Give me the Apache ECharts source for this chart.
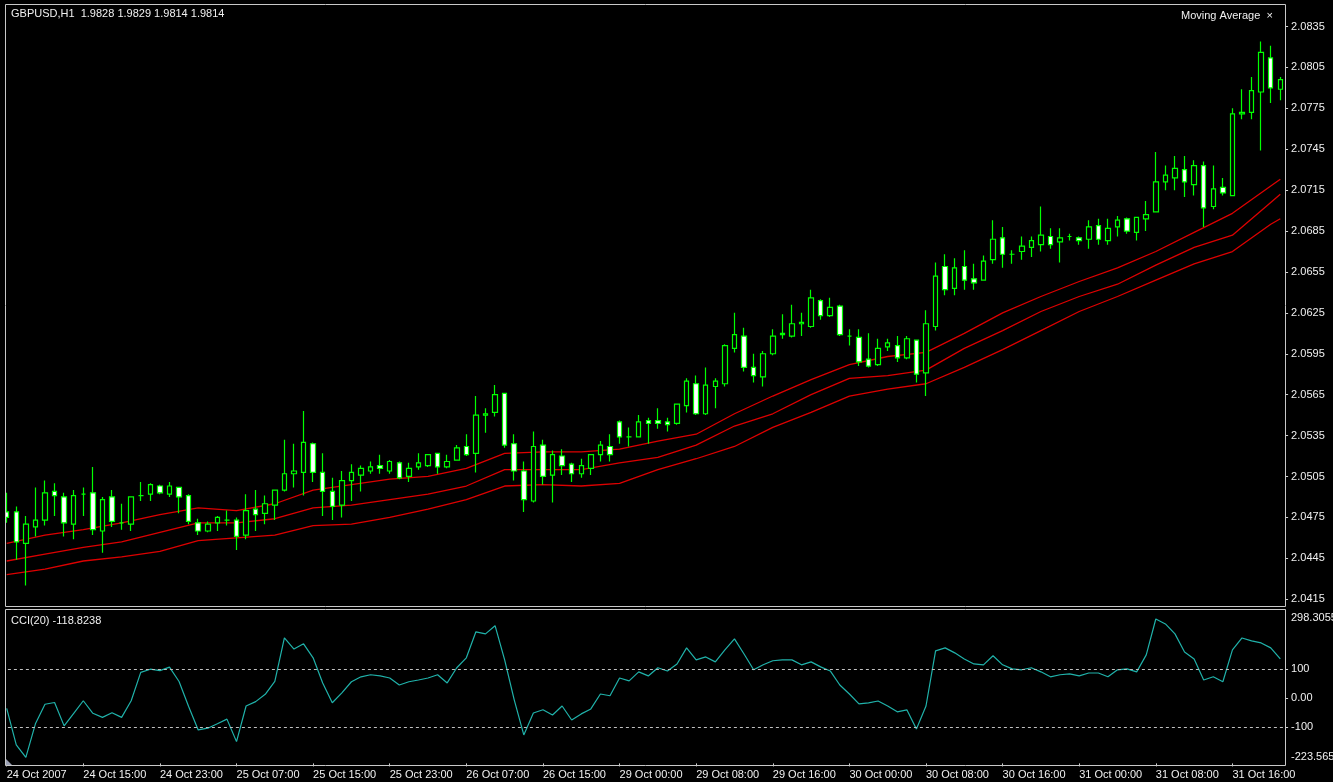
<!DOCTYPE html>
<html>
<head>
<meta charset="utf-8">
<title>GBPUSD,H1</title>
<script src="https://cdn.jsdelivr.net/npm/echarts@6.0.0/dist/echarts.min.js"></script>
<style>
  html, body { margin: 0; padding: 0; background: #000; }
  #chart { width: 1333px; height: 782px; }
</style>
</head>
<body>
<div id="chart"></div>
<script>
  // time labels shown every 8 bars (H1)
  const tickLabels = ['24 Oct 2007', '24 Oct 15:00', '24 Oct 23:00', '25 Oct 07:00', '25 Oct 15:00',
    '25 Oct 23:00', '26 Oct 07:00', '26 Oct 15:00', '29 Oct 00:00', '29 Oct 08:00', '29 Oct 16:00',
    '30 Oct 00:00', '30 Oct 08:00', '30 Oct 16:00', '31 Oct 00:00', '31 Oct 08:00', '31 Oct 16:00'];

  const open = [2.0479,2.0479,2.0456,2.0468,2.0473,2.0494,2.0490,2.0470,2.0492,2.0493,
    2.0465,2.0490,2.0471,2.0470,2.0491,2.0492,2.0498,2.0492,2.0497,2.0491,
    2.0471,2.0465,2.0471,2.0473,2.0473,2.0462,2.0481,2.0478,2.0484,2.0495,
    2.0507,2.0508,2.0529,2.0508,2.0494,2.0484,2.0502,2.0506,2.0509,2.0513,
    2.0509,2.0515,2.0505,2.0512,2.0513,2.0522,2.0512,2.0517,2.0527,2.0522,
    2.0550,2.0552,2.0566,2.0529,2.0509,2.0487,2.0528,2.0506,2.0520,2.0514,
    2.0507,2.0511,2.0521,2.0527,2.0545,2.0534,2.0534,2.0546,2.0546,2.0545,
    2.0544,2.0557,2.0573,2.0551,2.0571,2.0573,2.0599,2.0608,2.0585,2.0578,
    2.0595,2.0609,2.0608,2.0617,2.0615,2.0634,2.0623,2.0630,2.0608,2.0607,
    2.0591,2.0587,2.0600,2.0601,2.0592,2.0605,2.0581,2.0615,2.0659,2.0643,
    2.0659,2.0650,2.0649,2.0664,2.0680,2.0668,2.0670,2.0673,2.0675,2.0681,
    2.0677,2.0681,2.0680,2.0679,2.0689,2.0678,2.0688,2.0694,2.0684,2.0694,
    2.0699,2.0721,2.0724,2.0730,2.0719,2.0733,2.0703,2.0717,2.0711,2.0771,
    2.0772,2.0787,2.0812,2.0789];
  const high = [2.0493,2.0483,2.0476,2.0497,2.0502,2.0500,2.0493,2.0495,2.0497,2.0512,
    2.0490,2.0495,2.0485,2.0490,2.0501,2.0500,2.0499,2.0501,2.0497,2.0492,
    2.0474,2.0472,2.0476,2.0480,2.0475,2.0492,2.0495,2.0491,2.0495,2.0532,
    2.0529,2.0553,2.0530,2.0522,2.0504,2.0509,2.0514,2.0513,2.0516,2.0521,
    2.0517,2.0516,2.0515,2.0522,2.0521,2.0522,2.0521,2.0528,2.0536,2.0564,
    2.0555,2.0572,2.0566,2.0536,2.0516,2.0538,2.0532,2.0524,2.0525,2.0515,
    2.0518,2.0521,2.0531,2.0536,2.0546,2.0541,2.0550,2.0548,2.0555,2.0548,
    2.0558,2.0577,2.0579,2.0585,2.0577,2.0602,2.0625,2.0614,2.0595,2.0597,
    2.0613,2.0624,2.0631,2.0625,2.0642,2.0635,2.0636,2.0631,2.0613,2.0613,
    2.0610,2.0606,2.0606,2.0608,2.0608,2.0605,2.0627,2.0662,2.0668,2.0665,
    2.0671,2.0661,2.0667,2.0693,2.0688,2.0671,2.0681,2.0681,2.0703,2.0687,
    2.0687,2.0683,2.0681,2.0693,2.0694,2.0694,2.0696,2.0695,2.0695,2.0707,
    2.0743,2.0733,2.0740,2.0740,2.0737,2.0736,2.0733,2.0724,2.0775,2.0789,
    2.0798,2.0824,2.0821,2.0798];
  const low = [2.0471,2.0444,2.0425,2.0461,2.0469,2.0476,2.0461,2.0459,2.0476,2.0462,
    2.0449,2.0468,2.0466,2.0465,2.0487,2.0487,2.0492,2.0490,2.0478,2.0470,
    2.0462,2.0464,2.0465,2.0469,2.0451,2.0459,2.0465,2.0470,2.0473,2.0494,
    2.0497,2.0491,2.0501,2.0476,2.0473,2.0475,2.0487,2.0494,2.0507,2.0507,
    2.0507,2.0503,2.0501,2.0510,2.0512,2.0507,2.0511,2.0517,2.0520,2.0508,
    2.0537,2.0549,2.0526,2.0502,2.0479,2.0486,2.0499,2.0486,2.0506,2.0501,
    2.0504,2.0506,2.0516,2.0516,2.0529,2.0527,2.0534,2.0529,2.0540,2.0538,
    2.0543,2.0552,2.0550,2.0550,2.0555,2.0571,2.0596,2.0582,2.0574,2.0571,
    2.0594,2.0606,2.0607,2.0608,2.0614,2.0620,2.0622,2.0608,2.0601,2.0586,
    2.0585,2.0586,2.0597,2.0589,2.0591,2.0574,2.0564,2.0612,2.0638,2.0638,
    2.0642,2.0642,2.0649,2.0661,2.0658,2.0661,2.0664,2.0666,2.0670,2.0672,
    2.0662,2.0678,2.0675,2.0672,2.0675,2.0675,2.0681,2.0683,2.0678,2.0685,
    2.0699,2.0715,2.0715,2.0710,2.0711,2.0688,2.0701,2.0711,2.0711,2.0767,
    2.0767,2.0744,2.0779,2.0781];
  const close = [2.0475,2.0457,2.0470,2.0473,2.0493,2.0491,2.0471,2.0491,2.0492,2.0466,
    2.0488,2.0472,2.0471,2.0490,2.0491,2.0499,2.0493,2.0498,2.0490,2.0472,
    2.0465,2.0470,2.0475,2.0473,2.0461,2.0480,2.0477,2.0485,2.0495,2.0507,
    2.0509,2.0530,2.0508,2.0494,2.0483,2.0502,2.0508,2.0511,2.0512,2.0511,
    2.0516,2.0504,2.0511,2.0515,2.0521,2.0512,2.0516,2.0526,2.0521,2.0550,
    2.0551,2.0565,2.0528,2.0509,2.0488,2.0527,2.0505,2.0521,2.0513,2.0507,
    2.0513,2.0521,2.0528,2.0521,2.0534,2.0534,2.0545,2.0544,2.0544,2.0543,
    2.0558,2.0575,2.0551,2.0572,2.0575,2.0601,2.0609,2.0585,2.0579,2.0595,
    2.0608,2.0610,2.0617,2.0618,2.0636,2.0623,2.0629,2.0609,2.0608,2.0589,
    2.0586,2.0599,2.0603,2.0592,2.0606,2.0580,2.0617,2.0652,2.0642,2.0658,
    2.0649,2.0647,2.0663,2.0679,2.0668,2.0668,2.0674,2.0678,2.0682,2.0675,
    2.0680,2.0681,2.0678,2.0688,2.0679,2.0687,2.0693,2.0685,2.0695,2.0697,
    2.0721,2.0726,2.0731,2.0721,2.0733,2.0702,2.0716,2.0713,2.0771,2.0772,
    2.0788,2.0816,2.0790,2.0796];

  // moving average envelopes, read at every 4th bar
  const maIdx = [0,4,8,12,16,20,24,28,32,36,40,44,48,52,56,60,64,68,72,76,80,84,88,92,96,
    100,104,108,112,116,120,124,128,132,133];
  const maTop = [2.0456,2.0462,2.0466,2.0471,2.0477,2.0482,2.0480,2.0485,2.0495,2.0499,2.0503,
    2.0505,2.0511,2.0522,2.0523,2.0523,2.0525,2.0531,2.0536,2.0551,2.0564,2.0576,2.0587,2.0593,
    2.0596,2.0610,2.0625,2.0637,2.0648,2.0658,2.0670,2.0684,2.0698,2.0718,2.0723];
  const maMid = [2.0443,2.0448,2.0453,2.0457,2.0464,2.0471,2.0471,2.0474,2.0482,2.0484,2.0488,
    2.0492,2.0498,2.0510,2.0510,2.0510,2.0515,2.0519,2.0528,2.0542,2.0551,2.0565,2.0577,2.0579,
    2.0583,2.0599,2.0612,2.0626,2.0637,2.0646,2.0660,2.0673,2.0682,2.0706,2.0712];
  const maLow = [2.0433,2.0437,2.0443,2.0446,2.0450,2.0458,2.0460,2.0462,2.0469,2.0470,2.0475,
    2.0481,2.0488,2.0498,2.0499,2.0498,2.0500,2.0510,2.0518,2.0527,2.0541,2.0552,2.0564,2.0569,
    2.0573,2.0585,2.0598,2.0612,2.0626,2.0637,2.0649,2.0661,2.0670,2.0690,2.0694];

  const cci = [-35,-160,-203,-88,-21,-15,-95,-52,-9,-52,-66,-50,-66,-9,88,99,94,106,57,-29,
    -109,-103,-88,-72,-149,-27,-12,13,57,206,168,186,138,52,-16,18,56,73,80,76,
    69,45,56,62,69,80,52,104,138,227,220,248,131,-6,-126,-51,-40,-58,-27,-75,
    -54,-37,14,8,69,59,90,76,104,93,117,172,131,141,124,165,203,151,97,114,
    128,131,131,114,124,107,93,45,14,-20,-16,-10,-27,-47,-40,-106,-27,162,172,155,
    134,117,114,145,114,100,97,104,90,73,80,83,76,86,86,73,97,100,90,148,
    271,254,220,158,134,62,73,56,165,206,196,189,172,134];

  const priceTicks = [2.0835,2.0805,2.0775,2.0745,2.0715,2.0685,2.0655,2.0625,2.0595,2.0565,
    2.0535,2.0505,2.0475,2.0445,2.0415];
  const cciTicks = [100, 0, -100];
  const cciTickText = ['100', '0.00', '-100'];
  const cciMax = 298.3055;
  const cciMin = -223.565;

  const FONT = 'Liberation Sans';
  const TXT = '#f0f0f0';
  const GREEN = '#00ff00';

  // bars are 9.576px apart, first one sits half cut at the left frame
  const PLOT_LEFT = 1.9;
  const PLOT_W = 1283.2;

  const bars = open.map((o, i) => i);
  const candles = open.map((o, i) => [o, close[i], low[i], high[i]]);

  const maLine = (vals) => ({
    type: 'line',
    xAxisIndex: 1,
    yAxisIndex: 0,
    data: maIdx.map((x, k) => [x, vals[k]]),
    symbol: 'none',
    lineStyle: { color: '#dd0000', width: 1.3 },
    silent: true,
    z: 3
  });

  const chart = echarts.init(document.getElementById('chart'));

  const option = {
    backgroundColor: '#000',
    animation: false,
    textStyle: { fontFamily: FONT },
    grid: [
      { left: PLOT_LEFT, top: 5, width: PLOT_W, height: 601 },
      { left: PLOT_LEFT, top: 611, width: PLOT_W, height: 152.4 }
    ],
    xAxis: [
      {
        type: 'category', gridIndex: 0, data: bars, boundaryGap: true,
        axisLine: { show: false, onZero: false }, axisTick: { show: false }, axisLabel: { show: false }
      },
      {
        type: 'value', gridIndex: 0, min: -0.5, max: 133.5, show: false,
        axisLine: { onZero: false }
      },
      {
        type: 'category', gridIndex: 1, data: bars, boundaryGap: true, position: 'bottom',
        axisLine: { show: false, onZero: false },
        axisTick: { show: true, interval: 7, alignWithLabel: true, length: 3, lineStyle: { color: '#d0d0d0' } },
        axisLabel: {
          interval: 7, align: 'left', margin: 6, color: TXT, fontSize: 11, fontFamily: FONT,
          formatter: (v, i) => tickLabels[i / 8] || ''
        }
      }
    ],
    yAxis: [
      {
        type: 'value', gridIndex: 0, position: 'right', min: 2.0410, max: 2.08508, scale: true,
        splitLine: { show: false }, axisLine: { show: false, onZero: false },
        axisTick: { show: true, length: 3, customValues: priceTicks, lineStyle: { color: '#d0d0d0' } },
        axisLabel: {
          customValues: priceTicks, margin: 6, color: TXT, fontSize: 11, fontFamily: FONT,
          formatter: (v) => v.toFixed(4)
        }
      },
      {
        type: 'value', gridIndex: 1, position: 'right', min: cciMin, max: cciMax,
        splitLine: { show: false }, axisLine: { show: false, onZero: false },
        axisTick: { show: true, length: 3, customValues: cciTicks, lineStyle: { color: '#d0d0d0' } },
        axisLabel: {
          customValues: cciTicks, margin: 6, color: TXT, fontSize: 11, fontFamily: FONT,
          formatter: (v) => cciTickText[cciTicks.indexOf(v)]
        }
      }
    ],
    series: [
      {
        type: 'candlestick',
        xAxisIndex: 0,
        yAxisIndex: 0,
        data: candles,
        barWidth: 5,
        itemStyle: {
          color: '#000000',      // rising bar: black body
          color0: '#ffffff',     // falling bar: white body
          borderColor: GREEN,
          borderColor0: GREEN,
          borderWidth: 1.2
        },
        z: 4
      },
      maLine(maTop),
      maLine(maMid),
      maLine(maLow),
      {
        type: 'line',
        xAxisIndex: 2,
        yAxisIndex: 1,
        data: cci,
        symbol: 'none',
        lineStyle: { color: '#20b2aa', width: 1.2 },
        markLine: {
          silent: true,
          symbol: 'none',
          label: { show: false },
          lineStyle: { color: '#c0c0c0', type: [3, 3], width: 1 },
          data: [{ yAxis: 100 }, { yAxis: -100 }]
        }
      }
    ],
    graphic: [
      // hide the part of the first bar that falls left of the frame
      { type: 'rect', left: 0, top: 0, shape: { width: 5.5, height: 766 }, style: { fill: '#000' }, z: 90 },
      // panel frames
      { type: 'rect', shape: { x: 5.5, y: 4.5, width: 1280, height: 602 }, style: { fill: 'none', stroke: '#c8c8c8', lineWidth: 1 }, z: 100 },
      { type: 'rect', shape: { x: 5.5, y: 609.5, width: 1280, height: 156 }, style: { fill: 'none', stroke: '#c8c8c8', lineWidth: 1 }, z: 100 },
      { type: 'polygon', shape: { points: [[6, 765], [12, 765], [6, 759]] }, style: { fill: '#9aa0b4' }, z: 100 },
      // CCI panel range labels sit just inside the panel
      { type: 'text', left: 1291, top: 612, style: { text: String(cciMax.toFixed(4)), fill: TXT, font: '11px "Liberation Sans"' }, z: 100 },
      { type: 'text', left: 1291, top: 751, style: { text: String(cciMin), fill: TXT, font: '11px "Liberation Sans"' }, z: 100 },
      // headers
      { type: 'text', left: 11, top: 8, style: { text: 'GBPUSD,H1  1.9828 1.9829 1.9814 1.9814', fill: TXT, font: '11px "Liberation Sans"' }, z: 100 },
      { type: 'text', left: 1181, top: 10, style: { text: 'Moving Average  ×', fill: TXT, font: '11px "Liberation Sans"' }, z: 100 },
      { type: 'text', left: 11, top: 615, style: { text: 'CCI(20) -118.8238', fill: TXT, font: '11px "Liberation Sans"' }, z: 100 }
    ]
  };

  chart.setOption(option);

  window.addEventListener('resize', () => {
    chart && chart.resize();
  });
</script>
</body>
</html>
